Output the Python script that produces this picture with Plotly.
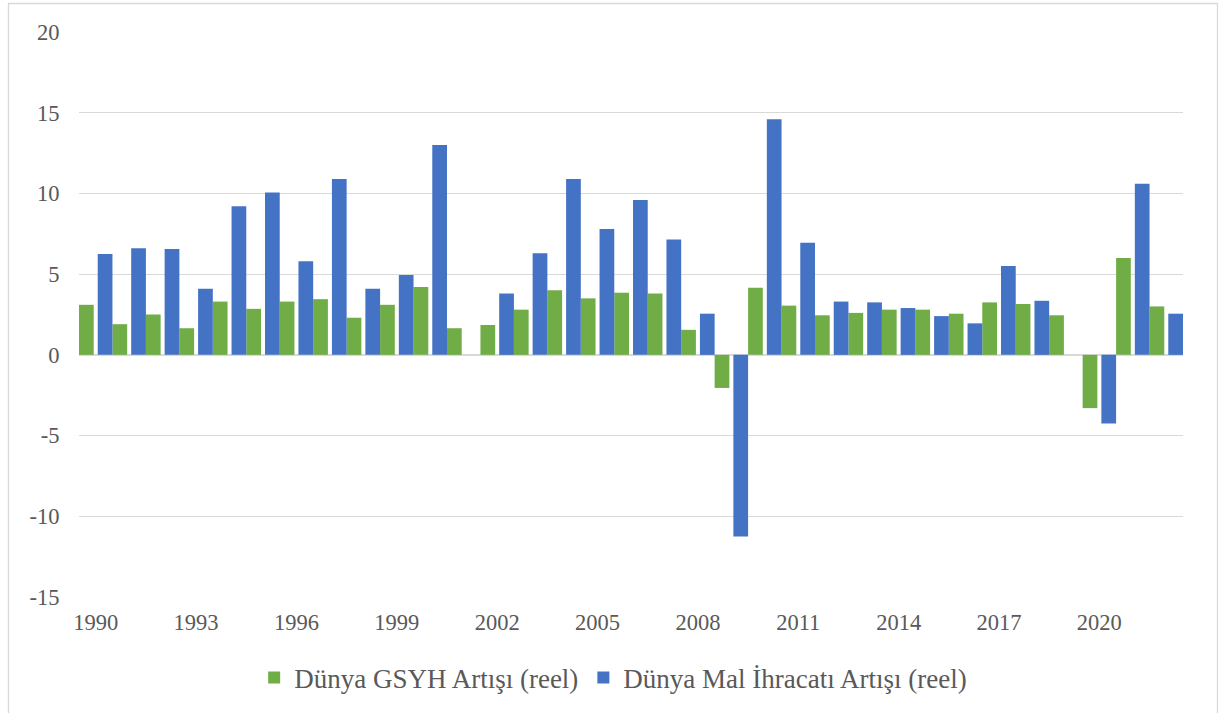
import plotly.graph_objects as go

years = list(range(1990, 2023))
gdp_growth = [3.1, 1.9, 2.5, 1.65, 3.3, 2.85, 3.3, 3.45, 2.3, 3.1, 4.2,
              1.65, 1.85, 2.8, 4.0, 3.5, 3.85, 3.8, 1.55, -2.05, 4.15,
              3.05, 2.45, 2.6, 2.8, 2.8, 2.55, 3.25, 3.15, 2.45, -3.3,
              6.0, 3.0]
export_growth = [6.25, 6.6, 6.55, 4.1, 9.2, 10.05, 5.8, 10.9, 4.1, 4.95, 13.0,
                 None, 3.8, 6.3, 10.9, 7.8, 9.6, 7.15, 2.55, -11.25, 14.6,
                 6.95, 3.3, 3.25, 2.9, 2.4, 1.95, 5.5, 3.35, None, -4.25,
                 10.6, 2.55]
series_names = ["Dünya GSYH Artışı (reel)", "Dünya Mal İhracatı Artışı (reel)"]
x_tick_years = [1990, 1993, 1996, 1999, 2002, 2005, 2008, 2011, 2014, 2017, 2020]
y_tick_vals = [-15, -10, -5, 0, 5, 10, 15, 20]
y_tick_text = ["-15", "-10", "-5", "0", "5", "10", "15", "20"]

GREEN = "#70AD47"
BLUE = "#4472C4"
GRID = "#D9D9D9"
TEXT = "#595959"
FONT = "Liberation Serif, Times New Roman, serif"

fig = go.Figure()
fig.add_trace(go.Bar(
    x=years, y=gdp_growth, name=series_names[0],
    marker=dict(color=GREEN, line=dict(width=0)),
    offset=-0.5, width=0.44,
))
fig.add_trace(go.Bar(
    x=years, y=export_growth, name=series_names[1],
    marker=dict(color=BLUE, line=dict(width=0)),
    offset=0.06, width=0.44,
))

# chart-area border (paper coords relative to plot area)
L, R, T, B = 79, 36, 32, 116
W, H = 1219, 713
pw, ph = W - L - R, H - T - B
def px_x(px):
    return (px - L) / pw
def px_y(py):
    return (H - B - py) / ph

fig.add_shape(type="rect", xref="paper", yref="paper",
              x0=px_x(8.5), x1=px_x(1217.5), y0=px_y(730), y1=px_y(3.5),
              line=dict(color=GRID, width=1.3), fillcolor="rgba(0,0,0,0)", layer="below")

fig.update_layout(
    width=W, height=H,
    margin=dict(l=L, r=R, t=T, b=B, autoexpand=False),
    paper_bgcolor="white", plot_bgcolor="white",
    barmode="overlay",
    font=dict(family=FONT, size=22, color=TEXT),
    showlegend=True,
    legend=dict(orientation="h", xref="container", yref="container",
                x=0.503, xanchor="center", y=0.049, yanchor="middle",
                font=dict(family=FONT, size=27, color=TEXT),
                itemclick=False, bgcolor="rgba(0,0,0,0)"),
    xaxis=dict(
        range=[1989.5, 2022.5],
        tickmode="array", tickvals=x_tick_years,
        ticktext=[str(v) for v in x_tick_years],
        showgrid=False, zeroline=False, showline=False,
        ticks="outside", ticklen=5, tickcolor="rgba(0,0,0,0)",
        tickfont=dict(family=FONT, size=22.5, color=TEXT),
        fixedrange=True,
    ),
    yaxis=dict(
        range=[-15, 20],
        tickmode="array", tickvals=y_tick_vals, ticktext=y_tick_text,
        showgrid=True, gridcolor=GRID, gridwidth=1.3,
        zeroline=True, zerolinecolor=GRID, zerolinewidth=1.6,
        showline=False,
        ticks="outside", ticklen=14, tickcolor="rgba(0,0,0,0)",
        tickfont=dict(family=FONT, size=22.5, color=TEXT),
        fixedrange=True,
    ),
)

fig.write_html("out.html", config={"displayModeBar": False},
               post_script="document.body.style.margin='0';")
